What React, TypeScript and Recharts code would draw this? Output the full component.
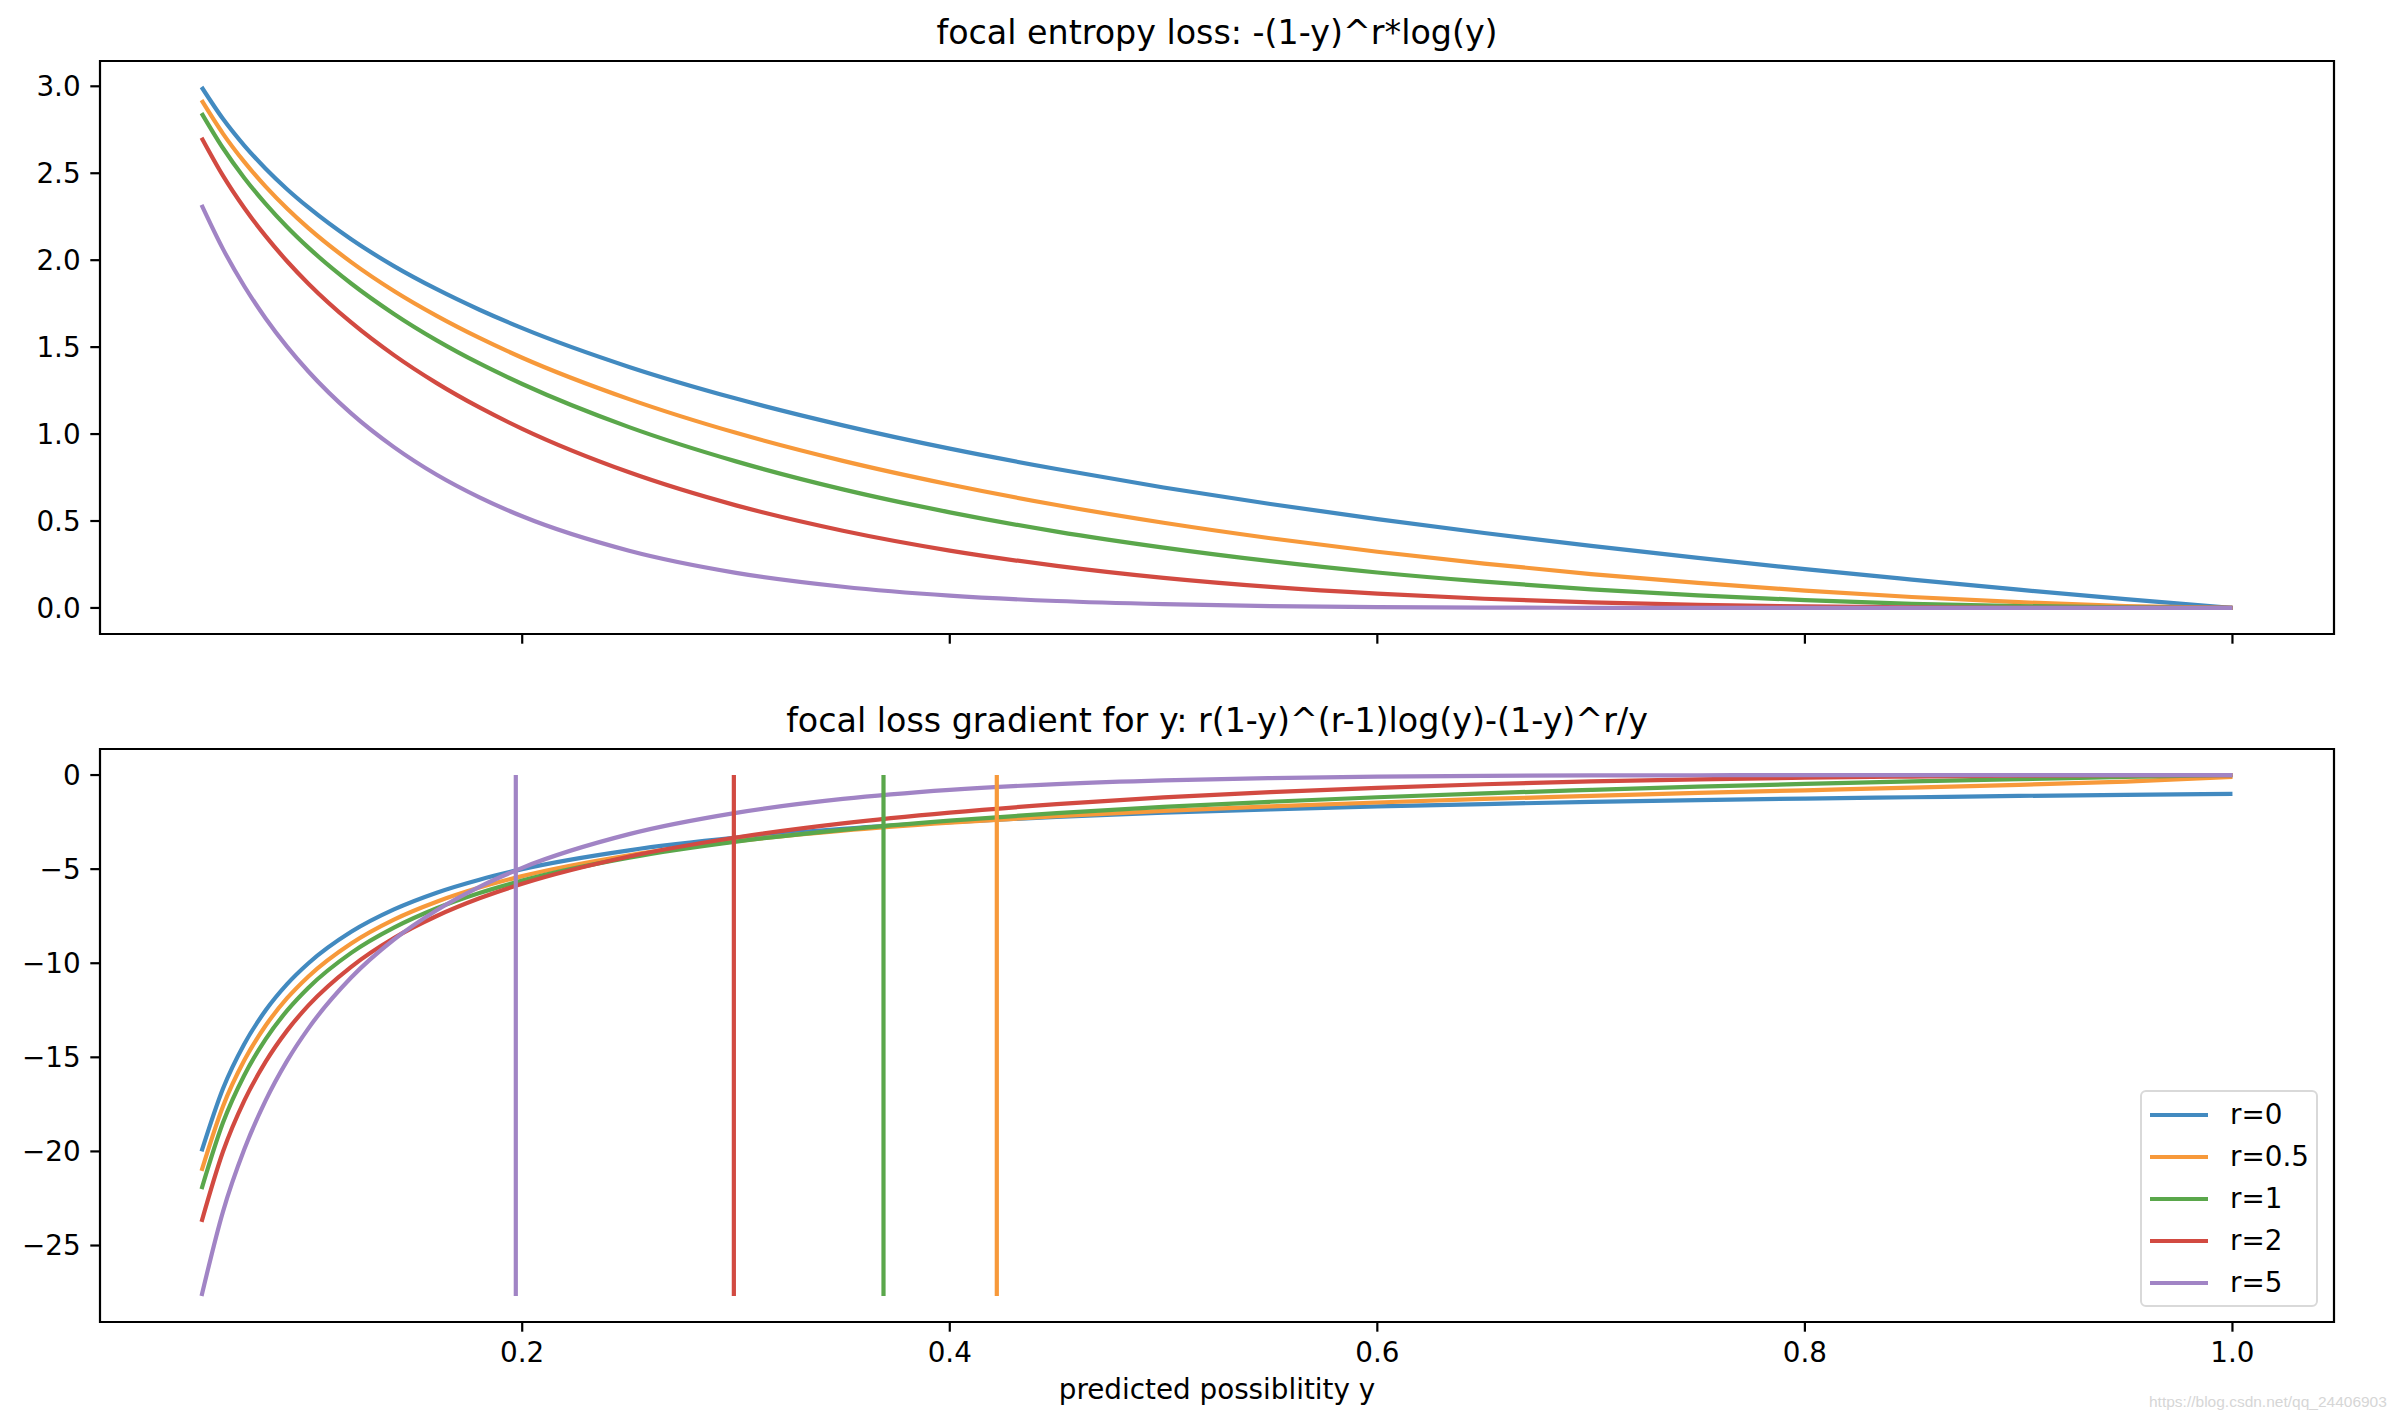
import React from "react";
import { LineChart, Line, XAxis, YAxis, ReferenceArea, ReferenceLine } from "recharts";

// predicted possibility y (sample points)
const xs = [
  0.05, 0.06, 0.07, 0.08, 0.09, 0.1, 0.12, 0.14, 0.16, 0.18, 0.2, 0.25, 0.3, 0.35,
  0.4, 0.45, 0.5, 0.55, 0.6, 0.65, 0.7, 0.75, 0.8, 0.85, 0.9, 0.95, 1.0,
];

// top panel: focal entropy loss
const lossR0 = [
  2.996, 2.813, 2.659, 2.526, 2.408, 2.303, 2.12, 1.966, 1.833, 1.715, 1.609, 1.386, 1.204, 1.05,
  0.916, 0.799, 0.693, 0.598, 0.511, 0.431, 0.357, 0.288, 0.223, 0.163, 0.105, 0.051, 0,
];
const lossR05 = [
  2.92, 2.728, 2.565, 2.423, 2.297, 2.184, 1.989, 1.823, 1.68, 1.553, 1.439, 1.201, 1.007, 0.846,
  0.71, 0.592, 0.49, 0.401, 0.323, 0.255, 0.195, 0.144, 0.1, 0.063, 0.033, 0.011, 0,
];
const lossR1 = [
  2.846, 2.645, 2.473, 2.324, 2.191, 2.072, 1.866, 1.691, 1.539, 1.406, 1.288, 1.04, 0.843, 0.682,
  0.55, 0.439, 0.347, 0.269, 0.204, 0.151, 0.107, 0.072, 0.045, 0.024, 0.011, 0.003, 0,
];
const lossR2 = [
  2.704, 2.486, 2.3, 2.138, 1.994, 1.865, 1.642, 1.454, 1.293, 1.153, 1.03, 0.78, 0.59, 0.444,
  0.33, 0.242, 0.173, 0.121, 0.082, 0.053, 0.032, 0.018, 0.009, 0.004, 0.001, 0, 0,
];
const lossR5 = [
  2.318, 2.065, 1.85, 1.665, 1.503, 1.36, 1.119, 0.925, 0.766, 0.636, 0.527, 0.329, 0.202, 0.122,
  0.071, 0.04, 0.022, 0.011, 0.005, 0.002, 0.001, 0, 0, 0, 0, 0, 0,
];

// bottom panel: gradient
const gradR0 = [
  -20, -16.67, -14.29, -12.5, -11.11, -10, -8.33, -7.14, -6.25, -5.56, -5, -4, -3.33, -2.86,
  -2.5, -2.22, -2, -1.82, -1.67, -1.54, -1.43, -1.33, -1.25, -1.18, -1.11, -1.05, -1,
];
const gradR05 = [
  -21.03, -17.61, -15.16, -13.31, -11.86, -10.7, -8.95, -7.68, -6.73, -5.98, -5.37, -4.26, -3.51, -2.95,
  -2.53, -2.19, -1.9, -1.67, -1.46, -1.27, -1.11, -0.95, -0.81, -0.67, -0.52, -0.35, -0.1,
];
const gradR1 = [
  -22.0, -18.48, -15.95, -14.03, -12.52, -11.3, -9.45, -8.11, -7.08, -6.27, -5.61, -4.39, -3.54, -2.91,
  -2.42, -2.02, -1.69, -1.42, -1.18, -0.97, -0.79, -0.62, -0.47, -0.34, -0.22, -0.1, 0,
];
const gradR2 = [
  -23.74, -20.02, -17.3, -15.23, -13.58, -12.24, -10.19, -8.66, -7.49, -6.55, -5.78, -4.33, -3.32, -2.57,
  -2.0, -1.55, -1.19, -0.91, -0.68, -0.49, -0.34, -0.23, -0.14, -0.08, -0.03, -0.01, 0,
];
const gradR5 = [
  -27.68, -23.21, -19.89, -17.29, -15.19, -13.46, -10.76, -8.74, -7.18, -5.94, -4.93, -3.14, -2.01, -1.27,
  -0.79, -0.48, -0.28, -0.16, -0.08, -0.04, -0.02, -0.01, 0, 0, 0, 0, 0,
];

// vertical markers in the gradient panel
const markerX = [0.197, 0.299, 0.369, 0.422];
const markerSeries = [4, 3, 2, 1];
const markerTop = 0;
const markerBottom = -27.68;

const seriesKeys = ["r0", "r05", "r1", "r2", "r5"];
const seriesNames = ["r=0", "r=0.5", "r=1", "r=2", "r=5"];
const colors = ["#428ac0", "#f7993a", "#5aa74b", "#d24a41", "#a184c5"];

const xTicks = [0.2, 0.4, 0.6, 0.8, 1.0];
const lossTicks = [0, 0.5, 1.0, 1.5, 2.0, 2.5, 3.0];
const gradTicks = [-25, -20, -15, -10, -5, 0];

const X_DOMAIN: [number, number] = [0.0025, 1.0475];
const LOSS_DOMAIN: [number, number] = [-0.1498, 3.1455];
const GRAD_DOMAIN: [number, number] = [-29.064, 1.384];

const lossData = xs.map((x, i) => ({
  x, r0: lossR0[i], r05: lossR05[i], r1: lossR1[i], r2: lossR2[i], r5: lossR5[i],
}));
const gradData = xs.map((x, i) => ({
  x, r0: gradR0[i], r05: gradR05[i], r1: gradR1[i], r2: gradR2[i], r5: gradR5[i],
}));

const FONT = "DejaVu Sans";
const PLOT_LEFT = 100;
const PLOT_RIGHT_MARGIN = 68;
const PLOT_WIDTH = 2402 - PLOT_LEFT - PLOT_RIGHT_MARGIN;
const tickStyle = { fill: "#000", fontSize: 27.8, fontFamily: FONT };
const tickLine = { stroke: "#000", strokeWidth: 2.2 };
const minus = (v: number) => (v === 0 ? "0" : v < 0 ? "\u2212" + Math.abs(v) : String(v));

function Panel({ data, yDomain, yTicks, yFmt, showX, height, marginTop, xAxisHeight, markers }: any) {
  return (
    <LineChart
      width={2402}
      height={height}
      data={data}
      margin={{ top: marginTop, right: PLOT_RIGHT_MARGIN, left: 0, bottom: 0 }}
    >
      <XAxis
        dataKey="x"
        type="number"
        domain={X_DOMAIN}
        ticks={xTicks}
        allowDataOverflow
        axisLine={false}
        tickLine={tickLine}
        tickSize={9.7}
        tickMargin={11}
        tick={tickStyle}
        height={xAxisHeight}
        tickFormatter={(v: number) => (showX ? v.toFixed(1) : "")}
      />
      <YAxis
        type="number"
        domain={yDomain}
        ticks={yTicks}
        allowDataOverflow
        width={PLOT_LEFT}
        axisLine={false}
        tickLine={tickLine}
        tickSize={9.7}
        tickMargin={9.7}
        tick={tickStyle}
        tickFormatter={yFmt}
      />
      {seriesKeys.map((k, i) => (
        <Line
          key={k}
          dataKey={k}
          name={seriesNames[i]}
          type="monotone"
          stroke={colors[i]}
          strokeWidth={4.2}
          dot={false}
          isAnimationActive={false}
        />
      ))}
      {markers &&
        markerX.map((mx, i) => (
          <ReferenceLine
            key={"m" + i}
            segment={[
              { x: mx, y: markerTop },
              { x: mx, y: markerBottom },
            ]}
            stroke={colors[markerSeries[i]]}
            strokeWidth={4.2}
          />
        ))}
      <ReferenceArea
        x1={X_DOMAIN[0]}
        x2={X_DOMAIN[1]}
        y1={yDomain[0]}
        y2={yDomain[1]}
        fill="none"
        fillOpacity={0}
        stroke="#000"
        strokeWidth={2.2}
        strokeOpacity={1}
      />
    </LineChart>
  );
}

const textBase: React.CSSProperties = {
  position: "absolute",
  fontFamily: FONT,
  color: "#000",
  whiteSpace: "nowrap",
  lineHeight: 1,
};

export default function App() {
  return (
    <div style={{ position: "absolute", left: 0, top: 0, width: 2402, height: 1422, background: "#fff", fontFamily: FONT }}>
      <div style={{ position: "absolute", left: 0, top: 0 }}>
        <Panel
          data={lossData}
          yDomain={LOSS_DOMAIN}
          yTicks={lossTicks}
          yFmt={(v: number) => v.toFixed(1)}
          showX={false}
          height={700}
          marginTop={61}
          xAxisHeight={66}
          markers={false}
        />
      </div>
      <div style={{ position: "absolute", left: 0, top: 700 }}>
        <Panel
          data={gradData}
          yDomain={GRAD_DOMAIN}
          yTicks={gradTicks}
          yFmt={minus}
          showX={true}
          height={722}
          marginTop={49}
          xAxisHeight={100}
          markers={true}
        />
      </div>

      <div style={{ ...textBase, left: PLOT_LEFT, width: PLOT_WIDTH, top: 16, fontSize: 33.3, textAlign: "center" }}>
        focal entropy loss: -(1-y)^r*log(y)
      </div>
      <div style={{ ...textBase, left: PLOT_LEFT, width: PLOT_WIDTH, top: 704, fontSize: 33.3, textAlign: "center" }}>
        focal loss gradient for y: r(1-y)^(r-1)log(y)-(1-y)^r/y
      </div>
      <div style={{ ...textBase, left: PLOT_LEFT, width: PLOT_WIDTH, top: 1376, fontSize: 27.8, textAlign: "center" }}>
        predicted possiblitity y
      </div>

      <div
        style={{
          position: "absolute",
          left: 2140,
          top: 1090,
          width: 178,
          height: 217,
          border: "2.2px solid #d9d9d9",
          borderRadius: 6,
          background: "rgba(255,255,255,0.8)",
          boxSizing: "border-box",
        }}
      >
        {seriesNames.map((n, i) => (
          <div key={n} style={{ position: "absolute", left: 8, top: 9 + i * 42, height: 28, display: "flex", alignItems: "center" }}>
            <div style={{ width: 58, height: 4.2, background: colors[i] }} />
            <div style={{ ...textBase, position: "static", marginLeft: 22, fontSize: 27.8 }}>{n}</div>
          </div>
        ))}
      </div>

      <div style={{ position: "absolute", left: 2149, top: 1393, fontFamily: "Liberation Sans", fontSize: 15.5, color: "#d6d6d6", whiteSpace: "nowrap" }}>
        https://blog.csdn.net/qq_24406903
      </div>
    </div>
  );
}
